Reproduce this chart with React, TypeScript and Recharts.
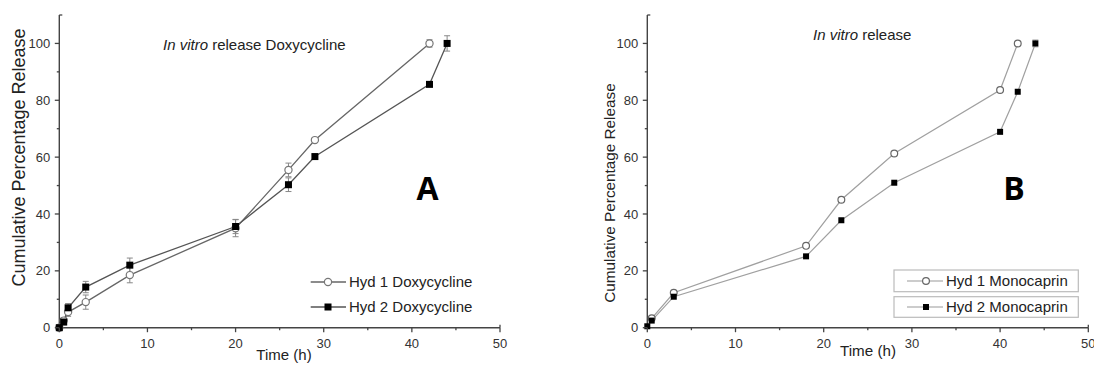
import React from 'react';
import { LineChart, Line, XAxis, YAxis, ErrorBar, Legend } from 'recharts';

// ---- Panel A: In vitro release Doxycycline ----
const timeA1 = [0, 0.5, 1, 3, 8, 20, 26, 29, 42];
const hyd1A = [0, 2.5, 5.5, 9, 18.5, 35, 55.5, 66, 100];
const hyd1AErr = [0, 1, 1.5, 2.5, 2.7, 3, 2.4, 0.8, 1.3];
const timeA2 = [0, 0.5, 1, 3, 8, 20, 26, 29, 42, 44];
const hyd2A = [0, 2, 7, 14.3, 22, 35.6, 50.3, 60.2, 85.6, 100];
const hyd2AErr = [0, 1, 1.5, 2, 2.5, 2.5, 2.4, 0.8, 0.8, 2.7];

// ---- Panel B: In vitro release Monocaprin ----
const timeB1 = [0.5, 3, 18, 22, 28, 40, 42];
const hyd1B = [3.3, 12.3, 28.8, 45, 61.3, 83.6, 100];
const timeB2 = [0, 0.5, 3, 18, 22, 28, 40, 42, 44];
const hyd2B = [0.5, 2.5, 10.9, 25.1, 37.8, 51, 68.9, 83, 100];
const hyd2BErr = [0, 0, 0, 0, 0, 0, 0, 0, 1.2];

const xTicks = [0, 5, 10, 15, 20, 25, 30, 35, 40, 45, 50];
const yTicks = [0, 10, 20, 30, 40, 50, 60, 70, 80, 90, 100, 110];

const namesA = ['Hyd 1 Doxycycline', 'Hyd 2 Doxycycline'];
const namesB = ['Hyd 1 Monocaprin', 'Hyd 2 Monocaprin'];

const rows = (t: number[], v: number[], e?: number[]) =>
  t.map((x, i) => ({ t: x, v: v[i], e: e ? e[i] : 0 }));

const FONT = '"Liberation Sans", Arial, sans-serif';
const AXIS = '#444';

const XTick = (props: any) => {
  const { x, y, payload } = props;
  const v = payload.value;
  const major = v % 10 === 0;
  return (
    <g>
      <line x1={x} y1={y} x2={x} y2={y + (major ? 4.5 : 2.5)} stroke={AXIS} strokeWidth={1.3} />
      {v === 50 && <line x1={x} y1={y} x2={x} y2={y - 3} stroke={AXIS} strokeWidth={1.3} />}
      {major && (
        <text x={x} y={y + 20.5} textAnchor="middle" fontSize={13} fill="#333" fontFamily={FONT}>
          {v}
        </text>
      )}
    </g>
  );
};

const YTick = (props: any) => {
  const { x, y, payload } = props;
  const v = payload.value;
  if (v === 110) {
    return <line x1={x} y1={y} x2={x + 3} y2={y} stroke={AXIS} strokeWidth={1.3} />;
  }
  const major = v % 20 === 0;
  return (
    <g>
      <line x1={x} y1={y} x2={x - (major ? 4.5 : 2.5)} y2={y} stroke={AXIS} strokeWidth={1.3} />
      {major && (
        <text x={x - 9} y={y + 4.6} textAnchor="end" fontSize={13} fill="#333" fontFamily={FONT}>
          {v}
        </text>
      )}
    </g>
  );
};

const squareDot = (size: number) => (p: any) => (
  <rect key={`sq-${p.index}`} x={p.cx - size / 2} y={p.cy - size / 2} width={size} height={size} fill="#000" />
);

const LegendA = () => (
  <svg width={180} height={50} style={{ display: 'block', overflow: 'visible' }}>
    <line x1={5.7} y1={12} x2={41} y2={12} stroke="#666" strokeWidth={1.3} />
    <circle cx={23} cy={12} r={3.6} fill="#fff" stroke="#777" strokeWidth={1.2} />
    <text x={44} y={17.4} fontSize={15} fill="#222" fontFamily={FONT}>{namesA[0]}</text>
    <line x1={5.7} y1={37} x2={41} y2={37} stroke="#555" strokeWidth={1.3} />
    <rect x={19.5} y={33.5} width={7} height={7} fill="#000" />
    <text x={44} y={42.4} fontSize={15} fill="#222" fontFamily={FONT}>{namesA[1]}</text>
  </svg>
);

const LegendB = () => (
  <svg width={200} height={60} style={{ display: 'block', overflow: 'visible' }}>
    <rect x={6} y={5} width={184.3} height={21.7} fill="#fff" stroke="#bbb" strokeWidth={1.2} />
    <rect x={6} y={31.7} width={184.3} height={20.6} fill="#fff" stroke="#bbb" strokeWidth={1.2} />
    <line x1={19} y1={16} x2={55} y2={16} stroke="#999" strokeWidth={1.2} />
    <circle cx={38} cy={16} r={3.4} fill="#fff" stroke="#666" strokeWidth={1.2} />
    <text x={58} y={21.4} fontSize={15} fill="#222" fontFamily={FONT}>{namesB[0]}</text>
    <line x1={19} y1={42} x2={55} y2={42} stroke="#999" strokeWidth={1.2} />
    <rect x={35} y={39} width={6} height={6} fill="#000" />
    <text x={58} y={47.4} fontSize={15} fill="#222" fontFamily={FONT}>{namesB[1]}</text>
  </svg>
);

const axisProps = {
  tickSize: 0,
  tickMargin: 0,
  tickLine: false,
  interval: 0 as const,
  axisLine: { stroke: AXIS, strokeWidth: 1.4 },
};

export default function App() {
  const dA1 = rows(timeA1, hyd1A, hyd1AErr);
  const dA2 = rows(timeA2, hyd2A, hyd2AErr);
  const dB1 = rows(timeB1, hyd1B);
  const dB2 = rows(timeB2, hyd2B, hyd2BErr);

  return (
    <div style={{ position: 'absolute', left: 0, top: 0, width: 1094, height: 365, background: '#fff', overflow: 'hidden' }}>
      <div style={{ position: 'absolute', left: 0, top: 0 }}>
        <LineChart width={547} height={365} margin={{ top: 15, right: 47, bottom: 0, left: 0 }}>
          <XAxis type="number" dataKey="t" domain={[0, 50]} ticks={xTicks} height={37.3} tick={<XTick />} {...axisProps} />
          <YAxis type="number" domain={[0, 110]} ticks={yTicks} width={59.3} tick={<YTick />} {...axisProps} />
          <Line data={dA1} dataKey="v" name={namesA[0]} stroke="#666" strokeWidth={1.3} isAnimationActive={false}
            dot={{ r: 3.6, fill: '#fff', stroke: '#777', strokeWidth: 1.2 }} activeDot={false}>
            <ErrorBar dataKey="e" width={3} stroke="#888" strokeWidth={1} direction="y" />
          </Line>
          <Line data={dA2} dataKey="v" name={namesA[1]} stroke="#555" strokeWidth={1.3} isAnimationActive={false}
            dot={squareDot(7)} activeDot={false}>
            <ErrorBar dataKey="e" width={3} stroke="#888" strokeWidth={1} direction="y" />
          </Line>
          <Legend layout="vertical" align="center" verticalAlign="middle" content={() => <LegendA />}
            wrapperStyle={{ left: 305, top: 270, width: 180, height: 50 }} />
        </LineChart>
      </div>

      <div style={{ position: 'absolute', left: 588, top: 0 }}>
        <LineChart width={506} height={365} margin={{ top: 15, right: 5.7, bottom: 0, left: 0 }}>
          <XAxis type="number" dataKey="t" domain={[0, 50]} ticks={xTicks} height={37.3} tick={<XTick />} {...axisProps} />
          <YAxis type="number" domain={[0, 110]} ticks={yTicks} width={59.3} tick={<YTick />} {...axisProps} />
          <Line data={dB1} dataKey="v" name={namesB[0]} stroke="#a0a0a0" strokeWidth={1.2} isAnimationActive={false}
            dot={{ r: 3.4, fill: '#fff', stroke: '#666', strokeWidth: 1.2 }} activeDot={false} />
          <Line data={dB2} dataKey="v" name={namesB[1]} stroke="#a0a0a0" strokeWidth={1.2} isAnimationActive={false}
            dot={squareDot(6)} activeDot={false}>
            <ErrorBar dataKey="e" width={3} stroke="#999" strokeWidth={1} direction="y" />
          </Line>
          <Legend layout="vertical" align="center" verticalAlign="middle" content={() => <LegendB />}
            wrapperStyle={{ left: 300, top: 265, width: 200, height: 60 }} />
        </LineChart>
      </div>

      <svg width={1094} height={365} style={{ position: 'absolute', left: 0, top: 0, pointerEvents: 'none' }}>
        <text x={163} y={49.5} fontSize={15} fill="#222" fontFamily={FONT}>
          <tspan fontStyle="italic">In vitro</tspan> release Doxycycline
        </text>
        <text x={813} y={40} fontSize={15} fill="#222" fontFamily={FONT}>
          <tspan fontStyle="italic">In vitro</tspan> release
        </text>
        <text x={427.5} y={200} textAnchor="middle" fontSize={32} fontWeight={700} fill="#000" fontFamily='"Open Sans", sans-serif'>A</text>
        <text x={1014} y={200} textAnchor="middle" fontSize={32} fontWeight={700} fill="#000" fontFamily='"Open Sans", sans-serif'>B</text>
        <text transform="translate(25,157.5) rotate(-90)" textAnchor="middle" fontSize={18} fill="#222" fontFamily={FONT}>
          Cumulative Percentage Release
        </text>
        <text transform="translate(614.5,193) rotate(-90)" textAnchor="middle" fontSize={15.3} fill="#222" fontFamily={FONT}>
          Cumulative Percentage Release
        </text>
        <text x={284} y={360} textAnchor="middle" fontSize={15} fill="#222" fontFamily={FONT}>Time (h)</text>
        <text x={868} y={356} textAnchor="middle" fontSize={15.2} fill="#222" fontFamily={FONT}>Time (h)</text>
      </svg>
    </div>
  );
}
